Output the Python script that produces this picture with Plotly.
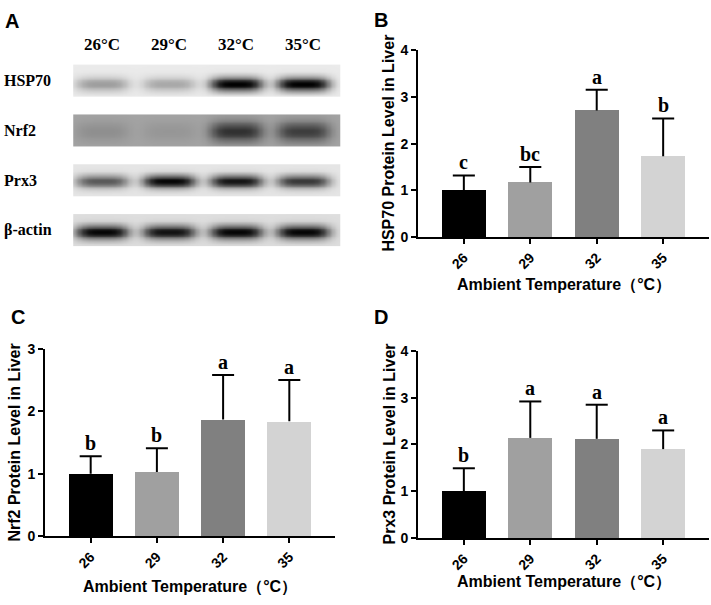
import numpy as np
import plotly.graph_objects as go

# ---------------- data ----------------
temperatures = ["26", "29", "32", "35"]
bar_colors = ["#000000", "#a0a0a0", "#808080", "#d3d3d3"]

hsp70_mean = [1.00, 1.17, 2.71, 1.73]
hsp70_sd = [0.32, 0.33, 0.44, 0.81]
hsp70_letters = ["c", "bc", "a", "b"]

nrf2_mean = [1.00, 1.03, 1.87, 1.84]
nrf2_sd = [0.28, 0.38, 0.71, 0.66]
nrf2_letters = ["b", "b", "a", "a"]

prx3_mean = [1.00, 2.14, 2.12, 1.90]
prx3_sd = [0.49, 0.78, 0.73, 0.40]
prx3_letters = ["b", "a", "a", "a"]

blot_lane_labels = ["26°C", "29°C", "32°C", "35°C"]
blot_proteins = ["HSP70", "Nrf2", "Prx3", "β-actin"]
blot_background = [0.08, 0.36, 0.10, 0.13]
band_hsp70 = [0.30, 0.26, 0.92, 0.92]
band_nrf2 = [0.08, 0.05, 0.45, 0.40]
band_prx3 = [0.55, 0.88, 0.82, 0.68]
band_actin = [0.85, 0.80, 0.85, 0.85]
blot_bands = [band_hsp70, band_nrf2, band_prx3, band_actin]

# ---------------- layout helpers ----------------
W, H = 711, 605


def fx(px):
    return px / W


def fy(py):
    return 1 - py / H


SANS = "Liberation Sans, Arial, sans-serif"
SERIF = "Liberation Serif, Times New Roman, serif"

fig = go.Figure()

# ---------------- panel A: western blot ----------------
band_height = [0.14, 0.20, 0.13, 0.14]
band_offset = [0.07, 0.02, 0.02, 0.04]
xs = np.linspace(-0.42, 3.55, 220)
for r, (bands, bg) in enumerate(zip(blot_bands, blot_background)):
    ys = np.linspace(r - 0.31, r + 0.31, 36)
    X, Y = np.meshgrid(xs, ys)
    z = np.full_like(X, bg)
    for lane, b in enumerate(bands):
        z = z + b * np.exp(-(np.abs(X - lane) / 0.40) ** 4) * np.exp(
            -((Y - r - band_offset[r]) / band_height[r]) ** 2)
    z = np.clip(z, 0, 1)
    fig.add_trace(go.Heatmap(
        x=xs, y=ys, z=z, xaxis="x", yaxis="y",
        colorscale=[[0, "#ffffff"], [1, "#000000"]], zmin=0, zmax=1,
        showscale=False, zsmooth="best", hoverinfo="skip"))

fig.update_layout(
    xaxis=dict(domain=[0, fx(355)], range=[-102 / 67, (355 - 102) / 67],
               visible=False, fixedrange=True),
    yaxis=dict(domain=[fy(250), fy(20)],
               range=[(250 - 74.5) / 51.17, (20 - 74.5) / 51.17],
               visible=False, fixedrange=True),
)

annotations = []
for i, lab in enumerate(blot_lane_labels):
    annotations.append(dict(x=i, y=fy(37.5), xref="x", yref="paper", text=lab,
                            showarrow=False, xanchor="center", yanchor="middle",
                            font=dict(family=SERIF, size=17, color="black", weight="bold")))
for r, lab in enumerate(blot_proteins):
    annotations.append(dict(x=fx(2), y=r, xref="paper", yref="y", text=lab,
                            showarrow=False, xanchor="left", yanchor="middle",
                            font=dict(family=SERIF, size=16, color="black", weight="bold")))

# ---------------- bar panels ----------------
panels = [
    dict(ax="2", mean=hsp70_mean, sd=hsp70_sd, letters=hsp70_letters,
         xdom=[fx(418), fx(709)], ydom=[fy(235.3), fy(43.3)], ymax=4,
         ytitle="HSP70 Protein Level in Liver", ytitle_x=389, xtitle_y=285),
    dict(ax="3", mean=nrf2_mean, sd=nrf2_sd, letters=nrf2_letters,
         xdom=[fx(45), fx(335)], ydom=[fy(542.7), fy(350)], ymax=3,
         ytitle="Nrf2 Protein Level in Liver", ytitle_x=15, xtitle_y=595),
    dict(ax="4", mean=prx3_mean, sd=prx3_sd, letters=prx3_letters,
         xdom=[fx(418), fx(709)], ydom=[fy(544.3), fy(352.3)], ymax=4,
         ytitle="Prx3 Protein Level in Liver", ytitle_x=389, xtitle_y=590),
]

CAP = 0.166  # half cap width in category units
for p in panels:
    a = p["ax"]
    xi = list(range(len(temperatures)))
    fig.add_trace(go.Bar(
        x=xi, y=p["mean"], width=0.663,
        marker=dict(color=bar_colors, line=dict(width=0)),
        xaxis="x" + a, yaxis="y" + a, showlegend=False, hoverinfo="skip"))
    # one-sided (upper) error bars
    ex, ey = [], []
    for i, m, s in zip(xi, p["mean"], p["sd"]):
        ex += [i, i, None, i - CAP, i + CAP, None]
        ey += [m, m + s, None, m + s, m + s, None]
    fig.add_trace(go.Scatter(
        x=ex, y=ey, mode="lines", line=dict(color="black", width=2),
        xaxis="x" + a, yaxis="y" + a, showlegend=False, hoverinfo="skip",
        cliponaxis=False))
    axis_common = dict(showline=True, linewidth=2, linecolor="black",
                       ticks="outside", ticklen=5, tickwidth=2, tickcolor="black",
                       showgrid=False, zeroline=False, fixedrange=True,
                       tickfont=dict(family=SANS, size=14, color="black", weight="bold"))
    fig.layout["xaxis" + a] = dict(
        domain=p["xdom"], range=[-0.69, 3.69], anchor="y" + a,
        tickmode="array", tickvals=xi,
        ticktext=temperatures, tickangle=-45, **axis_common)
    fig.layout["yaxis" + a] = dict(
        domain=p["ydom"], range=[0, p["ymax"]], anchor="x" + a,
        tickmode="array", tickvals=list(range(p["ymax"] + 1)), **axis_common)
    for i, (m, s, let) in enumerate(zip(p["mean"], p["sd"], p["letters"])):
        annotations.append(dict(x=i, y=m + s, xref="x" + a, yref="y" + a, text=let,
                                showarrow=False, xanchor="center", yanchor="bottom",
                                font=dict(family=SERIF, size=20, color="black", weight="bold")))
    annotations.append(dict(x=fx(p["ytitle_x"]), y=0.5, xref="paper", yref="y" + a + " domain",
                            text=p["ytitle"], textangle=-90, showarrow=False,
                            xanchor="center", yanchor="middle",
                            font=dict(family=SANS, size=16, color="black", weight="bold")))
    annotations.append(dict(x=0.5, y=fy(p["xtitle_y"]), xref="x" + a + " domain", yref="paper",
                            text="Ambient Temperature（°C）", showarrow=False,
                            xanchor="center", yanchor="middle",
                            font=dict(family=SANS, size=16, color="black", weight="bold")))

# panel letters
for lab, px, py in [("A", 12, 13), ("B", 381, 12), ("C", 18, 317), ("D", 381, 317)]:
    annotations.append(dict(x=fx(px), y=fy(py), xref="paper", yref="paper", text=lab,
                            showarrow=False, xanchor="center", yanchor="middle",
                            font=dict(family=SANS, size=20, color="black", weight="bold")))

fig.update_layout(
    width=W, height=H, margin=dict(l=0, r=0, t=0, b=0),
    paper_bgcolor="white", plot_bgcolor="white",
    showlegend=False, annotations=annotations, bargap=0,
)

fig.write_html("out.html", config={"displayModeBar": False},
               post_script="document.body.style.margin='0';document.body.style.overflow='hidden';")
